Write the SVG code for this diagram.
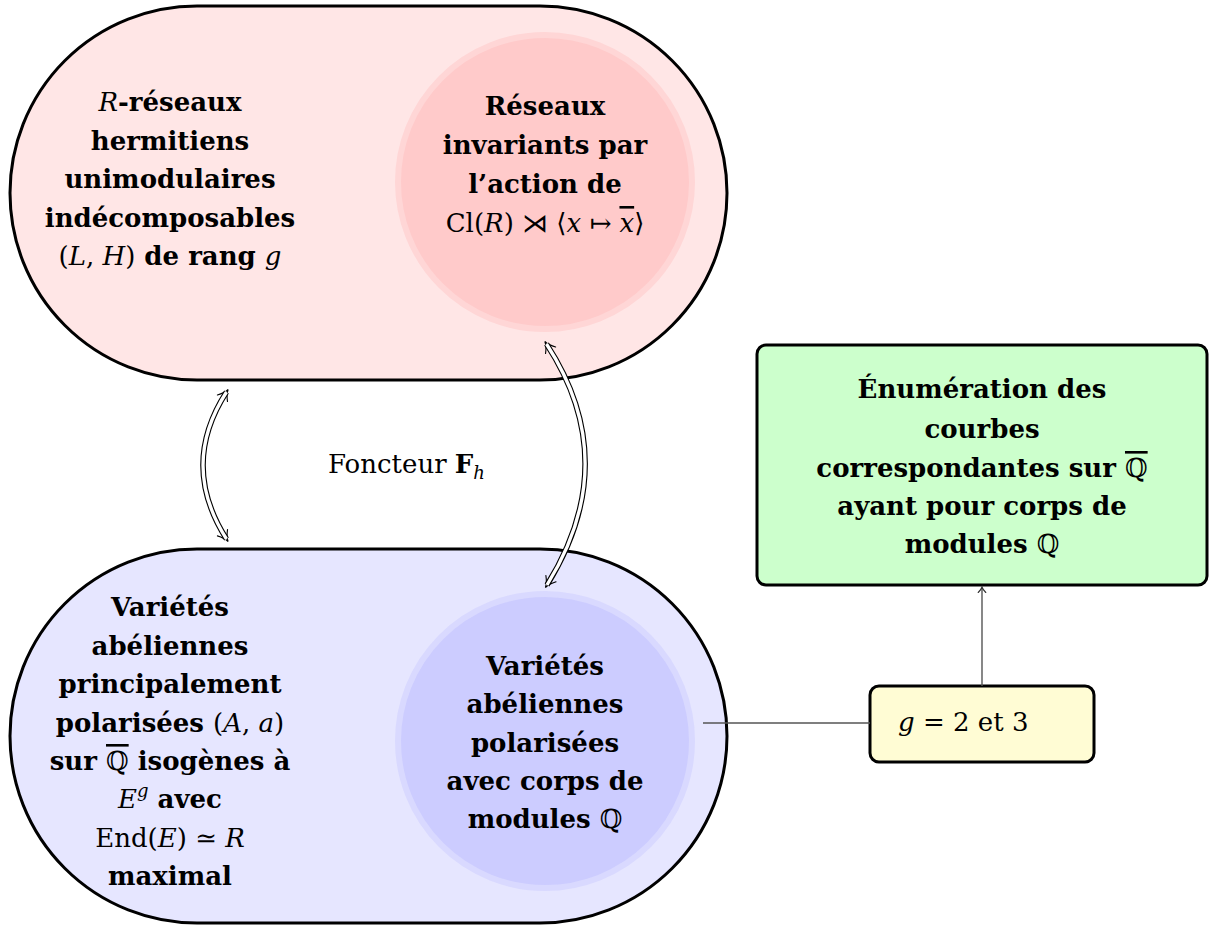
<svg xmlns="http://www.w3.org/2000/svg" width="1210" height="929" viewBox="0 0 1210 929">
<style>
  .t { font-family: "DejaVu Serif", "Liberation Serif", serif; font-size: 26px; font-weight: bold; text-anchor: middle; fill: #000; }
  .ts { font-family: "DejaVu Serif", "Liberation Serif", serif; font-size: 26px; font-weight: normal; fill: #000; }
  .n { font-weight: normal; }
  .i { font-style: italic; font-weight: normal; }
  .ov { text-decoration: overline; }
  .stad { stroke: #000; stroke-width: 3; }
  .box { stroke: #000; stroke-width: 3; }
  .dblo { fill: none; stroke: #000; stroke-width: 5.5; }
  .dbli { fill: none; stroke: #fff; stroke-width: 3.3; }
  .thin { fill: none; stroke: #555; stroke-width: 1.4; }
</style>
<defs>
  <marker id="dtip" markerUnits="userSpaceOnUse" orient="auto-start-reverse" refX="0" refY="0" markerWidth="24" markerHeight="24" viewBox="-12 -12 24 24" overflow="visible">
    <path d="M-7.5,-6 Q-2,-1.2 3,0 Q-2,1.2 -7.5,6" fill="none" stroke="#000" stroke-width="1.1" stroke-linecap="round"/>
  </marker>
  <marker id="stip" markerUnits="userSpaceOnUse" orient="auto" refX="0" refY="0" markerWidth="12" markerHeight="12" viewBox="-6 -6 12 12" overflow="visible">
    <path d="M-4.5,-3.8 Q-1.2,-0.6 1,0 Q-1.2,0.6 -4.5,3.8" fill="none" stroke="#333" stroke-width="1.1" stroke-linecap="round"/>
  </marker>
</defs>

<g id="top-stadium">
  <rect class="stad" x="10" y="6" width="717" height="374" rx="187" ry="187" fill="#FFE6E6"/>
  <text class="t" x="170" y="111"><tspan class="i">R</tspan>-réseaux</text>
  <text class="t" x="170" y="149.5">hermitiens</text>
  <text class="t" x="170" y="188">unimodulaires</text>
  <text class="t" x="170" y="227">indécomposables</text>
  <text class="t" x="170" y="265"><tspan class="n">(</tspan><tspan class="i">L</tspan><tspan class="n">, </tspan><tspan class="i">H</tspan><tspan class="n">)</tspan> de rang <tspan class="i">g</tspan></text>
</g>

<g id="top-circle">
  <circle cx="545" cy="182" r="147" fill="#FFCACA" stroke="#FFD6D6" stroke-width="6"/>
  <text class="t" x="545" y="115">Réseaux</text>
  <text class="t" x="545" y="154">invariants par</text>
  <text class="t" x="545" y="193">l’action de</text>
  <text class="t n" x="545" y="232"><tspan class="n">Cl(</tspan><tspan class="i">R</tspan><tspan class="n">) ⋊ ⟨</tspan><tspan class="i">x</tspan><tspan class="n"> ↦ </tspan><tspan class="i ov">x</tspan><tspan class="n">⟩</tspan></text>
</g>

<g id="bottom-stadium">
  <rect class="stad" x="10" y="549" width="717" height="374" rx="187" ry="187" fill="#E6E6FF"/>
  <text class="t" x="170" y="616">Variétés</text>
  <text class="t" x="170" y="655">abéliennes</text>
  <text class="t" x="170" y="693">principalement</text>
  <text class="t" x="170" y="732">polarisées <tspan class="n">(</tspan><tspan class="i">A</tspan><tspan class="n">, </tspan><tspan class="i">a</tspan><tspan class="n">)</tspan></text>
  <text class="t" x="170" y="770">sur <tspan class="n ov">ℚ</tspan> isogènes à</text>
  <text class="t" x="170" y="808"><tspan class="i">E</tspan><tspan class="i" font-size="18" dy="-11">g</tspan><tspan dy="11"> avec</tspan></text>
  <text class="t" x="170" y="847"><tspan class="n">End(</tspan><tspan class="i">E</tspan><tspan class="n">) ≃ </tspan><tspan class="i">R</tspan></text>
  <text class="t" x="170" y="885">maximal</text>
</g>

<g id="bottom-circle">
  <circle cx="545" cy="741" r="147" fill="#CCCCFF" stroke="#D9D9FF" stroke-width="6"/>
  <text class="t" x="545" y="675">Variétés</text>
  <text class="t" x="545" y="713">abéliennes</text>
  <text class="t" x="545" y="752">polarisées</text>
  <text class="t" x="545" y="790">avec corps de</text>
  <text class="t" x="545" y="828">modules <tspan class="n">ℚ</tspan></text>
</g>

<g id="green-box">
  <rect class="box" x="757" y="345" width="450" height="240" rx="9" ry="9" fill="#CCFFCC"/>
  <text class="t" x="982" y="398">Énumération des</text>
  <text class="t" x="982" y="438">courbes</text>
  <text class="t" x="982" y="477">correspondantes sur <tspan class="n ov">ℚ</tspan></text>
  <text class="t" x="982" y="515">ayant pour corps de</text>
  <text class="t" x="982" y="553">modules <tspan class="n">ℚ</tspan></text>
</g>

<g id="yellow-box">
  <rect class="box" x="870" y="686" width="224" height="76" rx="9" ry="9" fill="#FFFCD4"/>
  <text class="ts" x="898" y="731"><tspan class="i">g</tspan> = 2 et 3</text>
</g>

<g id="functor-label">
  <text class="ts" x="328" y="473">Foncteur <tspan font-weight="bold">F</tspan><tspan class="i" font-size="18" dy="6">h</tspan></text>
</g>

<g id="connectors">
  <path class="dblo" d="M226.5,392 Q179.5,465 226.5,539" marker-start="url(#dtip)" marker-end="url(#dtip)"/>
  <path class="dbli" d="M226.5,392 Q179.5,465 226.5,539"/>
  <path class="dblo" d="M546.5,344 Q623.5,462 547,585" marker-start="url(#dtip)" marker-end="url(#dtip)"/>
  <path class="dbli" d="M546.5,344 Q623.5,462 547,585"/>
  <line class="thin" x1="703" y1="723" x2="870" y2="723"/>
  <line class="thin" x1="982" y1="686" x2="982" y2="588" marker-end="url(#stip)"/>
</g>
</svg>
